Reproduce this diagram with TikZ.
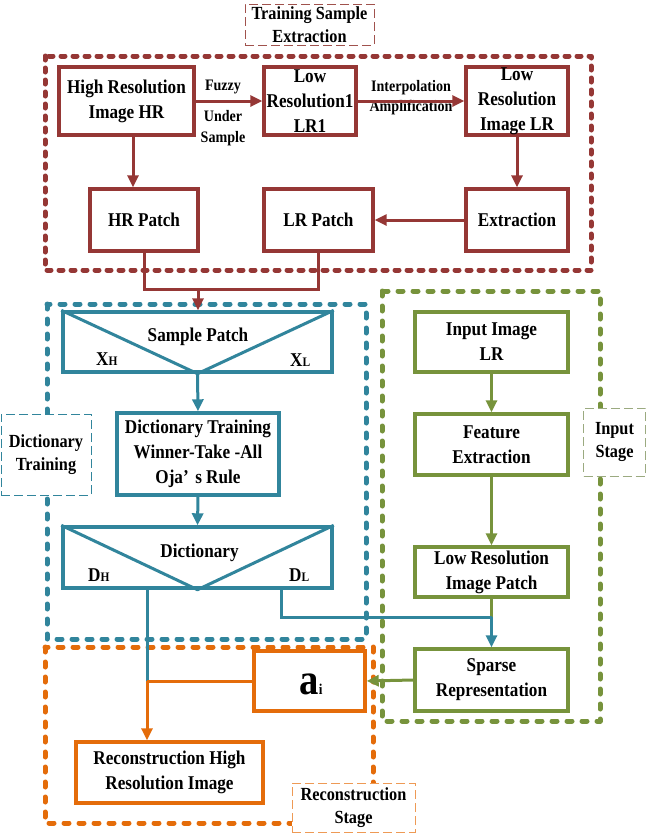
\documentclass[tikz,border=0pt]{standalone}
\usepackage{fontspec}
\setmainfont{Liberation Serif}[FakeStretch=0.88]
\usetikzlibrary{arrows.meta,calc}
\definecolor{cred}{HTML}{953735}
\definecolor{credl}{HTML}{A0524D}
\definecolor{cblue}{HTML}{31859C}
\definecolor{cgreen}{HTML}{77933C}
\definecolor{cgreenl}{HTML}{9BAA80}
\definecolor{corange}{HTML}{E46C0A}
\definecolor{corangel}{HTML}{EE9A55}
\begin{document}
\begin{tikzpicture}[x=1pt,y=-1pt,
  box/.style={draw, line width=3.4pt, fill=white, inner sep=0pt, align=center,
    font=\fontsize{19.5}{25}\selectfont\bfseries},
  lab/.style={draw, dash pattern=on 9pt off 4pt, line width=1pt, fill=white, inner sep=0pt,
    align=center, font=\fontsize{18.5}{23}\selectfont\bfseries},
  elab/.style={inner sep=0pt, align=center, font=\fontsize{16}{20.5}\selectfont\bfseries},
  txt/.style={inner sep=0pt, font=\fontsize{19.5}{25}\selectfont\bfseries},
  dotbox/.style={line width=5pt, line cap=round, line join=round, dash pattern=on 5pt off 10pt},
  conn/.style={line width=3pt},
  arr/.style={line width=3pt, -{Triangle[length=12pt,width=11pt]}},
]
\useasboundingbox (0,0) rectangle (646,833);

% stage boxes
\draw[dotbox, cred, dash pattern=on 4pt off 8pt] (45,56) rectangle (591,270);
\draw[dotbox, cblue] (47,304) rectangle (366,639);
\draw[dotbox, cgreen] (382,291) rectangle (600,721);
\draw[dotbox, corange] (45,647) rectangle (373,823);

% stage labels
\node[lab, draw=credl, minimum width=129pt, minimum height=41pt] (tlab) at (309.5,24.5) {Training Sample\\Extraction};
\node[lab, draw=cblue, minimum width=90pt, minimum height=81pt] (dlab) at (46,454.5) {Dictionary\\Training};
\node[lab, draw=cgreenl, minimum width=62pt, minimum height=68pt] (ilab) at (614.5,442) {Input\\Stage};
\node[lab, draw=corangel, minimum width=123pt, minimum height=49pt] (rlab) at (353.5,807.5) {Reconstruction\\Stage};

% training sample extraction
\node[box, draw=cred, minimum width=135pt, minimum height=68pt] (hr) at (126.5,101) {High Resolution\\Image HR};
\node[box, draw=cred, minimum width=92pt, minimum height=68pt] (lr1) at (310,101) {Low\\Resolution1\\LR1};
\node[box, draw=cred, minimum width=102pt, minimum height=68pt] (lri) at (517,101) {Low\\Resolution\\Image LR};
\node[box, draw=cred, minimum width=108pt, minimum height=62pt] (hrp) at (144,220) {HR Patch};
\node[box, draw=cred, minimum width=109pt, minimum height=62pt] (lrp) at (318.5,220) {LR Patch};
\node[box, draw=cred, minimum width=102pt, minimum height=62pt] (ext) at (517,220) {Extraction};

\node[elab] (fz) at (223,87) {Fuzzy};
\node[elab] (us) at (223,128) {Under\\Sample};
\node[elab] (ia) at (411,97.5) {Interpolation\\Amplification};

\draw[arr, cred] (hr.east) -- (lr1.west);
\draw[arr, cred] (lr1.east) -- (lri.west);
\draw[arr, cred] ([xshift=6.5pt]hr.south) -- ([xshift=6.5pt]hr.south |- hrp.north);
\draw[arr, cred] (lri.south) -- (ext.north);
\draw[arr, cred] (ext.west) -- (lrp.east);

% dictionary training
\node[box, draw=cblue, minimum width=269pt, minimum height=60pt] (sp) at (197.5,342) {};
\node[box, draw=cblue, minimum width=162pt, minimum height=82pt] (dt) at (198,454) {Dictionary Training\\Winner-Take -All\\Oja’\,\,s Rule};
\node[box, draw=cblue, minimum width=269pt, minimum height=61pt] (dict) at (197.5,557.5) {};
\draw[conn, cblue, line join=round] (sp.north west) -- (sp.south) -- (sp.north east);
\draw[conn, cblue, line join=round] (dict.north west) -- (dict.south) -- (dict.north east);
\node[txt, anchor=base] (spt) at (198,341) {Sample Patch};
\node[txt, anchor=base] (dictt) at (199.5,557) {Dictionary};
\node[txt, anchor=base west] (xh) at (96,365) {X{\fontsize{13}{13}\selectfont H}};
\node[txt, anchor=base west] (xl) at (290,366) {X{\fontsize{13}{13}\selectfont L}};
\node[txt, anchor=base west] (dh) at (88,581) {D{\fontsize{13}{13}\selectfont H}};
\node[txt, anchor=base west] (dl) at (289,581) {D{\fontsize{13}{13}\selectfont L}};

\coordinate (j1) at (198,289);
\draw[conn, cred] (hrp.south) -- (hrp.south |- j1) -- (lrp.south |- j1) -- (lrp.south);
\draw[arr, cred] (j1) -- (j1 |- sp.north);
\draw[arr, cblue] (sp.south) -- (dt.north);
\draw[arr, cblue] (dt.south) -- (dict.north);

% input stage
\node[box, draw=cgreen, minimum width=153pt, minimum height=60pt] (inp) at (491.5,342) {Input Image\\LR};
\node[box, draw=cgreen, minimum width=153pt, minimum height=61pt] (fe) at (491.5,444.5) {Feature\\Extraction};
\node[box, draw=cgreen, minimum width=153pt, minimum height=50pt] (lrip) at (491.5,572) {Low Resolution\\Image Patch};
\node[box, draw=cgreen, minimum width=153pt, minimum height=62pt] (spr) at (491.5,680) {Sparse\\Representation};
\draw[arr, cgreen] (inp.south) -- (fe.north);
\draw[arr, cgreen] (fe.south) -- (lrip.north);

% reconstruction
\node[box, draw=corange, minimum width=111pt, minimum height=60pt] (ai) at (309.5,681) {};
\node[inner sep=0pt, anchor=base] (ait) at (311,694) {\fontsize{44}{44}\selectfont\bfseries a\fontsize{15}{15}\selectfont i};
\node[box, draw=corange, minimum width=187pt, minimum height=61pt] (rec) at (169.5,772.5) {Reconstruction High\\Resolution Image};

\coordinate (j2) at (147,681);
\coordinate (j3) at (491.5,617);
\draw[conn, cgreen] (lrip.south) -- (j3);
\draw[conn, cblue] (dict.south -| 281,0) -- (281,617) -- (j3);
\draw[arr, cblue] (j3) -- (spr.north);
\draw[conn, cblue] (dict.south -| j2) -- (j2);
\draw[conn, corange] (j2) -- (ai.west);
\draw[arr, corange] (j2) -- (j2 |- rec.north);
\draw[arr, cgreen] (spr.west) -- (ai.east);
\end{tikzpicture}
\end{document}
